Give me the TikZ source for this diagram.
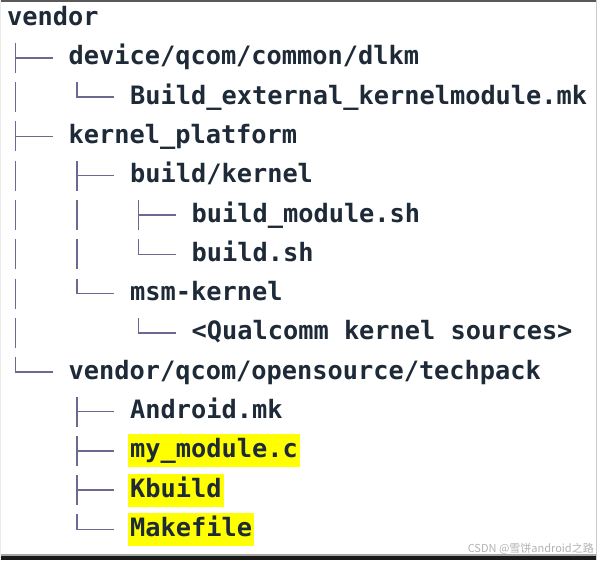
\documentclass[tikz,border=0pt]{standalone}
\usepackage{fontspec}
\newfontfamily\treefont{DejaVu Sans Mono}
\newfontfamily\cjk{Noto Sans CJK SC}
\usetikzlibrary{calc,backgrounds}

\definecolor{txt}{RGB}{30,42,56}
\definecolor{treeline}{RGB}{105,105,145}
\definecolor{hl}{RGB}{255,255,0}

\tikzset{
  entry/.style={anchor=west, inner sep=0pt, text height=19pt, text depth=5pt,
    font=\treefont\bfseries\fontsize{25.3pt}{30pt}\selectfont, text=txt},
  branch/.style={draw=treeline, line width=1.5pt},
}

\newcommand\midbranch[1]{%
  \draw[branch] ($(#1.west)+(-53,-15)$) -- ($(#1.west)+(-53,15)$)
                ($(#1.west)+(-53,0)$) -- ($(#1.west)+(-16,0)$);}
\newcommand\lastbranch[1]{%
  \draw[branch] ($(#1.west)+(-53,-15)$) |- ($(#1.west)+(-16,0)$);}
\newcommand\pipeat[2]{%
  \draw[branch] ($(#2,0 |- #1.west)+(0,-15)$) -- ($(#2,0 |- #1.west)+(0,15)$);}

\begin{document}
\begin{tikzpicture}[x=1pt,y=-1pt]
\useasboundingbox (0,0) rectangle (597,560);

% frame edges
\fill[black!65] (0,0) rectangle (597,2);
\fill[black!35] (0,553.5) rectangle (597,556);
\fill[black!90] (0,556) rectangle (597,560);
\fill[black!20] (595.5,0) rectangle (597,560);
\fill[black!8] (0,0) rectangle (1,560);

% entries
\node[entry] (r0)  at (7,18.5)      {vendor};
\node[entry] (r1)  at (68.5,57.8)   {device/qcom/common/dlkm};
\node[entry] (r2)  at (130,97.1)    {Build\_external\_kernelmodule.mk};
\node[entry] (r3)  at (68.5,136.4)  {kernel\_platform};
\node[entry] (r4)  at (130,175.7)   {build/kernel};
\node[entry] (r5)  at (191.5,215.0) {build\_module.sh};
\node[entry] (r6)  at (191.5,254.3) {build.sh};
\node[entry] (r7)  at (130,293.6)   {msm-kernel};
\node[entry] (r8)  at (191.5,332.9) {<Qualcomm kernel sources>};
\node[entry] (r9)  at (68.5,372.2)  {vendor/qcom/opensource/techpack};
\node[entry] (r10) at (130,411.5)   {Android.mk};
\node[entry] (r11) at (130,450.8)   {my\_module.c};
\node[entry] (r12) at (130,490.1)   {Kbuild};
\node[entry] (r13) at (130,529.4)   {Makefile};

% highlights
\begin{scope}[on background layer]
  \foreach \n in {r11,r12,r13}
    \fill[hl] ($(\n.west)+(-2,-16.5)$) rectangle ($(\n.east)+(2,16.5)$);
\end{scope}

% tree branches
\midbranch{r1}
\lastbranch{r2}
\midbranch{r3}
\midbranch{r4}
\midbranch{r5}
\lastbranch{r6}
\lastbranch{r7}
\lastbranch{r8}
\lastbranch{r9}
\midbranch{r10}
\midbranch{r11}
\midbranch{r12}
\lastbranch{r13}

% continuing verticals
\foreach \n in {r2,r4,r5,r6,r7,r8} { \pipeat{\n}{15.5} }
\foreach \n in {r5,r6} { \pipeat{\n}{77} }

% watermark
\node[anchor=east, inner sep=0pt, text=black!30,
      font=\cjk\fontsize{11pt}{13pt}\selectfont] (wm) at (594,549)
      {CSDN @雪饼android之路};
\end{tikzpicture}
\end{document}
